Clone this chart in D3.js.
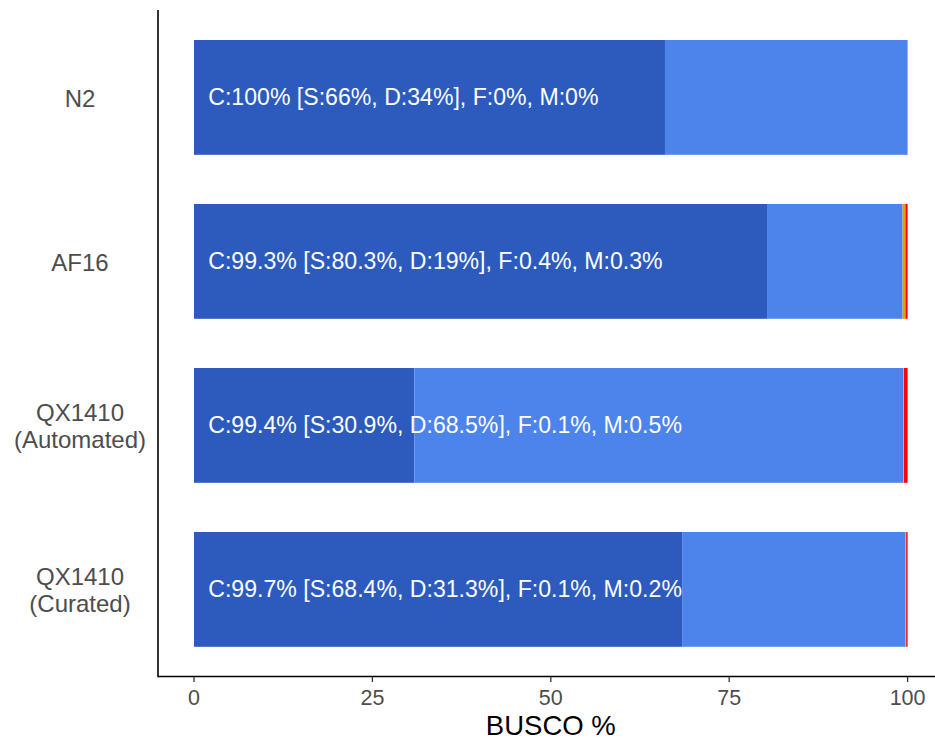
<!DOCTYPE html>
<html><head><meta charset="utf-8">
<script src="https://cdn.jsdelivr.net/npm/d3@7"></script>
<style>
html,body{margin:0;padding:0;background:#fff;}
svg{display:block;font-family:"Liberation Sans",Arial,Helvetica,sans-serif;}
</style></head>
<body><svg id="c" width="935" height="740"></svg>
<script>
const categories = ["N2", "AF16", "QX1410\n(Automated)", "QX1410\n(Curated)"];
const single     = [66, 80.3, 30.9, 68.4];
const duplicated = [34, 19, 68.5, 31.3];
const fragmented = [0, 0.4, 0.1, 0.1];
const missing    = [0, 0.3, 0.5, 0.2];
const complete   = ["100", "99.3", "99.4", "99.7"];
const labelS     = ["66", "80.3", "30.9", "68.4"];
const labelD     = ["34", "19", "68.5", "31.3"];
const labelF     = ["0", "0.4", "0.1", "0.1"];
const labelM     = ["0", "0.3", "0.5", "0.2"];
const xTicks     = [0, 25, 50, 75, 100];
const seriesNames  = ["S", "D", "F", "M"];
const seriesColors = ["#2C5BBD", "#4D84EC", "#E69F00", "#FF0000"];

const svg = d3.select("#c");
const x = d3.scaleLinear().domain([0, 100]).range([194, 907.6]);
const y = d3.scaleBand().domain(categories).range([15.4, 671.4]).paddingInner(0.3).paddingOuter(0.15);

const rows = categories.map((c, i) => ({cat: c, S: single[i], D: duplicated[i], F: fragmented[i], M: missing[i]}));
const stack = d3.stack().keys(seriesNames)(rows);
const color = d3.scaleOrdinal().domain(seriesNames).range(seriesColors);

svg.append("g").selectAll("g").data(stack).join("g")
  .attr("fill", d => color(d.key))
  .selectAll("rect").data(d => d).join("rect")
  .attr("x", d => x(d[0]))
  .attr("width", d => Math.max(0, x(d[1]) - x(d[0])))
  .attr("y", d => y(d.data.cat))
  .attr("height", y.bandwidth())
  .attr("stroke", d => (d[1] - d[0]) > 0 ? null : "none");

// bar labels
svg.append("g").selectAll("text").data(categories).join("text")
  .attr("x", x(2))
  .attr("y", d => y(d) + y.bandwidth() / 2)
  .attr("dy", "0.35em")
  .attr("fill", "#fff")
  .attr("font-size", 23.1)
  .text((d, i) => `C:${complete[i]}% [S:${labelS[i]}%, D:${labelD[i]}%], F:${labelF[i]}%, M:${labelM[i]}%`);

// x axis
const xAxis = svg.append("g").attr("transform", "translate(0,676.5)");
xAxis.append("line").attr("x1", 158).attr("x2", 935).attr("stroke", "#000").attr("stroke-width", 1.6);
const xt = xAxis.selectAll("g.tick").data(xTicks).join("g").attr("class", "tick")
  .attr("transform", d => `translate(${x(d)},0)`);
xt.append("line").attr("y1", 0).attr("y2", 5.5).attr("stroke", "#333").attr("stroke-width", 1.3);
xt.append("text").attr("y", 28.5).attr("text-anchor", "middle").attr("fill", "#4d4d4d")
  .attr("font-size", 21.5).text(d => d3.format("d")(d));

// y axis
svg.append("line").attr("x1", 158).attr("x2", 158).attr("y1", 10).attr("y2", 677.3)
  .attr("stroke", "#000").attr("stroke-width", 1.6);
const yl = svg.append("g").selectAll("text").data(categories).join("text")
  .attr("text-anchor", "middle").attr("fill", "#4d4d4d").attr("font-size", 24)
  .attr("transform", d => `translate(80,${y(d) + y.bandwidth() / 2})`);
yl.each(function(d) {
  const lines = d.split("\n");
  const lh = 27;
  const t = d3.select(this);
  lines.forEach((l, j) => {
    t.append("tspan").attr("x", 0)
      .attr("y", (j - (lines.length - 1) / 2) * lh)
      .attr("dy", "0.38em").text(l);
  });
});

// axis title
svg.append("text").attr("x", x(50)).attr("y", 734.5).attr("text-anchor", "middle")
  .attr("font-size", 27.5).attr("fill", "#000").text("BUSCO %");
</script></body></html>
